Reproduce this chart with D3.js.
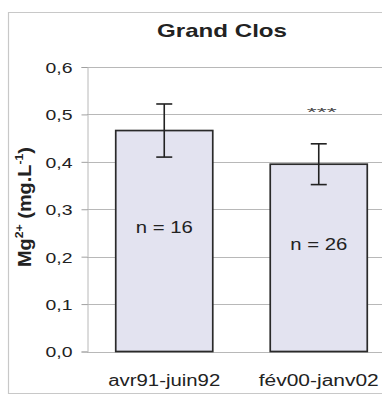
<!DOCTYPE html>
<html>
<head>
<meta charset="utf-8">
<script src="https://cdn.jsdelivr.net/npm/d3@7.9.0/dist/d3.min.js"></script>
<style>
  html, body { margin: 0; padding: 0; background: #fff; }
  svg { display: block; font-family: "Liberation Sans", Arial, sans-serif; }
</style>
</head>
<body>
<svg id="chart" width="382" height="395"></svg>
<script>
const periods = ['avr91-juin92', 'fév00-janv02'];
const means = [0.466, 0.395];
const errors = [0.056, 0.043];
const counts = [16, 26];
const signif = ['', '***'];
const yTicks = [0, 0.1, 0.2, 0.3, 0.4, 0.5, 0.6];

const data = periods.map((p, i) => ({
  period: p, mean: means[i], err: errors[i], n: counts[i], sig: signif[i]
}));

const svg = d3.select('#chart');

// outer frame (right side cut off)
svg.append('path')
  .attr('d', 'M400,12.5H8.5V393.5H400')
  .attr('fill', 'none')
  .attr('stroke', '#c8c8c8')
  .attr('stroke-width', 1.2);

const yScale = d3.scaleLinear().domain([0, 0.6]).range([351.5, 67]);
const xScale = d3.scaleBand().domain(periods).range([87, 396])
  .paddingInner(0.372).paddingOuter(0.186);

const fmt = d => d3.format('.1f')(d).replace('.', ',');

// gridlines
svg.append('g')
  .selectAll('line')
  .data(yTicks)
  .join('line')
  .attr('x1', 87).attr('x2', 396)
  .attr('y1', d => Math.round(yScale(d)) + 0.5)
  .attr('y2', d => Math.round(yScale(d)) + 0.5)
  .attr('stroke', '#b8b8b8')
  .attr('stroke-width', 1);

// y axis
const yAxis = svg.append('g')
  .attr('transform', 'translate(87.5,0)')
  .call(d3.axisLeft(yScale).tickValues(yTicks).tickFormat(fmt).tickSize(6).tickPadding(0));
yAxis.select('.domain').attr('stroke', '#b8b8b8');
yAxis.selectAll('.tick line').attr('stroke', '#a0a0a0');
yAxis.selectAll('.tick text')
  .attr('x', -15)
  .attr('dy', '0.36em')
  .attr('font-size', 15)
  .attr('fill', '#222')
  .attr('textLength', 27)
  .attr('lengthAdjust', 'spacingAndGlyphs');

// bars
svg.append('g')
  .selectAll('rect')
  .data(data)
  .join('rect')
  .attr('x', d => xScale(d.period))
  .attr('y', d => yScale(d.mean))
  .attr('width', xScale.bandwidth())
  .attr('height', d => yScale(0) - yScale(d.mean))
  .attr('fill', '#e3e3f0')
  .attr('stroke', '#2a2a2a')
  .attr('stroke-width', 1.7);

// error bars
const eb = svg.append('g').attr('stroke', '#222').attr('stroke-width', 1.6);
data.forEach(d => {
  const cx = xScale(d.period) + xScale.bandwidth() / 2;
  eb.append('line').attr('x1', cx).attr('x2', cx)
    .attr('y1', yScale(d.mean + d.err)).attr('y2', yScale(d.mean - d.err));
  [d.mean + d.err, d.mean - d.err].forEach(v => {
    eb.append('line').attr('x1', cx - 8).attr('x2', cx + 8)
      .attr('y1', yScale(v)).attr('y2', yScale(v));
  });
});

// n labels
svg.append('g')
  .selectAll('text')
  .data(data)
  .join('text')
  .attr('x', d => xScale(d.period) + xScale.bandwidth() / 2)
  .attr('y', d => yScale(d.mean / 2) - 14)
  .attr('dy', '0.36em')
  .attr('text-anchor', 'middle')
  .attr('font-size', 16)
  .attr('fill', '#222')
  .attr('textLength', 57)
  .attr('lengthAdjust', 'spacingAndGlyphs')
  .text(d => `n = ${d.n}`);

// significance stars
svg.append('g')
  .selectAll('text')
  .data(data.filter(d => d.sig))
  .join('text')
  .attr('x', d => xScale(d.period) + xScale.bandwidth() / 2 + 3)
  .attr('y', d => yScale(d.mean + d.err) - 28)
  .attr('text-anchor', 'middle')
  .attr('font-size', 10)
  .attr('fill', '#444')
  .attr('textLength', 30)
  .attr('lengthAdjust', 'spacingAndGlyphs')
  .text(d => d.sig);

// x labels
svg.append('g')
  .selectAll('text')
  .data(data)
  .join('text')
  .attr('x', d => xScale(d.period) + xScale.bandwidth() / 2)
  .attr('y', 386)
  .attr('text-anchor', 'middle')
  .attr('font-size', 16)
  .attr('fill', '#222')
  .attr('textLength', (d, i) => i === 0 ? 112 : 120)
  .attr('lengthAdjust', 'spacingAndGlyphs')
  .text(d => d.period);

// title
svg.append('text')
  .attr('x', 222)
  .attr('y', 37)
  .attr('text-anchor', 'middle')
  .attr('font-size', 19)
  .attr('font-weight', 'bold')
  .attr('fill', '#222')
  .attr('textLength', 130)
  .attr('lengthAdjust', 'spacingAndGlyphs')
  .text('Grand Clos');

// y label
const yl = svg.append('text')
  .attr('transform', 'translate(31,207) rotate(-90)')
  .attr('text-anchor', 'middle')
  .attr('font-size', 18)
  .attr('font-weight', 'bold')
  .attr('fill', '#222')
  .attr('textLength', 120)
  .attr('lengthAdjust', 'spacingAndGlyphs');
yl.append('tspan').text('Mg');
yl.append('tspan').attr('font-size', 11).attr('dy', -8).text('2+');
yl.append('tspan').attr('dy', 8).text(' (mg.L');
yl.append('tspan').attr('font-size', 11).attr('dy', -8).text('-1');
yl.append('tspan').attr('dy', 8).text(')');
</script>
</body>
</html>
